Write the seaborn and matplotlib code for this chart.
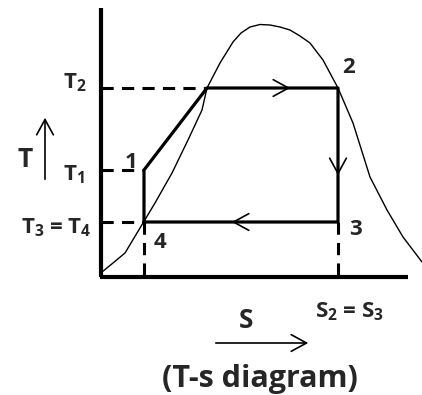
import numpy as np
import pandas as pd
import matplotlib
matplotlib.use("Agg")
import matplotlib.pyplot as plt
import seaborn as sns

# saturation dome (s, T)
dome_s = [1, 12, 24, 42, 54, 71, 87, 101, 106, 119, 132, 140, 149, 159, 169, 179, 189, 199, 209, 222, 237, 252, 269, 286, 302, 321]
dome_T = [5, 14, 24, 54, 74, 104, 137, 167, 189, 214, 235, 244, 250, 252.5, 252, 250, 247, 241, 234, 217, 189, 154, 100, 67, 40, 15]

# cycle states
s_1, s_2, s_f = 43, 237, 106
T_1, T_2, T_3 = 107, 189, 55
cycle_s = [s_1, s_1, s_f, s_2, s_2, s_1]
cycle_T = [T_3, T_1, T_2, T_2, T_3, T_3]

sns.set_style("white")
plt.rcParams['font.family'] = ['Open Sans', 'DejaVu Sans']
plt.rcParams['mathtext.fontset'] = 'custom'
plt.rcParams['mathtext.rm'] = 'Open Sans:bold'
plt.rcParams['mathtext.bf'] = 'Open Sans:bold'
plt.rcParams['mathtext.default'] = 'bf'

fig = plt.figure(figsize=(4.22, 3.95), dpi=100)
ax = fig.add_axes([0, 0, 1, 1])
ax.set_xlim(-101, 321)
ax.set_ylim(-118, 277)
ax.axis('off')

dome = pd.DataFrame({'s': dome_s, 'T': dome_T})
sns.lineplot(data=dome, x='s', y='T', sort=False, estimator=None, color='black', lw=1.0, ax=ax)
cyc = pd.DataFrame({'s': cycle_s, 'T': cycle_T})
sns.lineplot(data=cyc, x='s', y='T', sort=False, estimator=None, color='black', lw=2.3, ax=ax)

# axes
ax.plot([0, 0], [0, 269], color='black', lw=3.0, solid_capstyle='butt')
ax.plot([-1, 307], [0, 0], color='black', lw=3.0, solid_capstyle='butt')

# dashed guides
dash = dict(color='black', lw=2.2, dashes=(4, 2.7))
ax.plot([0, s_f], [T_2, T_2], **dash)
ax.plot([0, s_1], [T_1, T_1], **dash)
ax.plot([0, s_1], [T_3, T_3], **dash)
ax.plot([s_1, s_1], [T_3, 0], **dash)
ax.plot([s_2, s_2], [T_3, 0], **dash)

# direction chevrons
arr = dict(arrowstyle='->,head_length=0.55,head_width=0.3', lw=1.2, color='black', mutation_scale=20)
ax.annotate('', xy=(192, T_2), xytext=(172, T_2), arrowprops=arr)
ax.annotate('', xy=(s_2, 99), xytext=(s_2, 119), arrowprops=arr)
ax.annotate('', xy=(128, T_3), xytext=(148, T_3), arrowprops=arr)

fs = 16
tk = dict(fontsize=fs, fontweight='bold', ha='center', va='baseline')
ax.text(-26.5, 189, r'T$_2$', **tk)
ax.text(-27.5, 97, r'T$_1$', **tk)
ax.text(-45, 44, r'T$_3$ = T$_4$', **tk)
ax.text(-75.5, 110, 'T', fontsize=19, fontweight='bold', ha='center', va='baseline')
ax.annotate('', xy=(-56, 162), xytext=(-56, 95), arrowprops=arr)
ax.text(30, 109, '1', **tk)
ax.text(247.5, 204, '2', **tk)
ax.text(255, 42, '3', **tk)
ax.text(59, 29, '4', **tk)
ax.text(248, -40, r'S$_2$ = S$_3$', **tk)
ax.text(144.5, -51, 'S', fontsize=19, fontweight='bold', ha='center', va='baseline')
ax.annotate('', xy=(210, -66), xytext=(112, -66), arrowprops=arr)
ax.text(159, -110, '(T-s diagram)', fontsize=22, fontweight='bold', ha='center', va='baseline')

fig.savefig('out.png', dpi=100)
